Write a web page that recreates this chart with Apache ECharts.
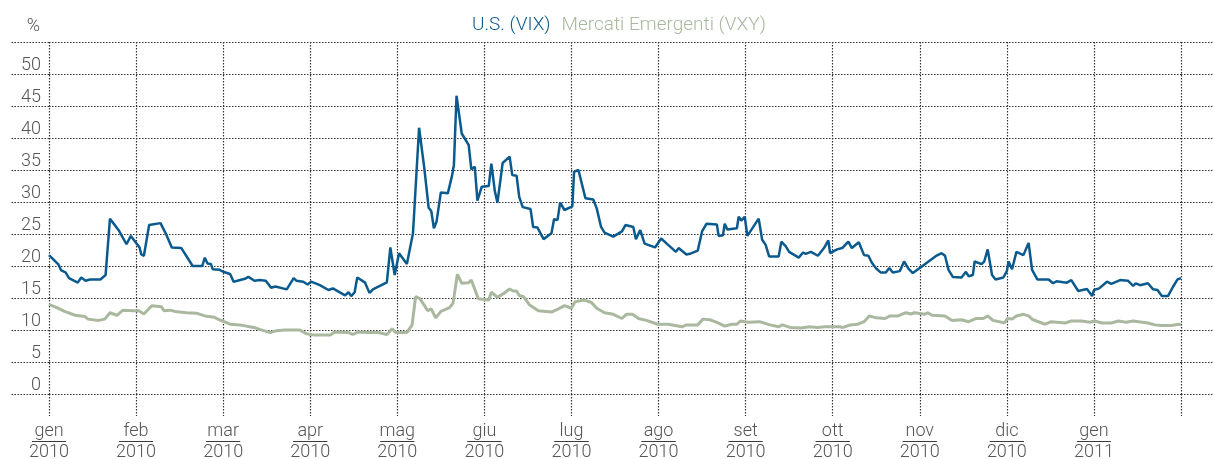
<!DOCTYPE html>
<html>
<head>
<meta charset="utf-8">
<script src="https://cdn.jsdelivr.net/npm/echarts@6/dist/echarts.min.js"></script>
<style>
  html, body { margin: 0; padding: 0; background: #fff; }
  #chart { width: 1213px; height: 459px; }
</style>
</head>
<body>
<div id="chart"></div>
<script>
// asse x: mesi da gen 2010 (0) a fine gen 2011 (13)
const monthLabels = ['gen', 'feb', 'mar', 'apr', 'mag', 'giu', 'lug', 'ago', 'set', 'ott', 'nov', 'dic', 'gen'];
const yearLabels = ['2010', '2010', '2010', '2010', '2010', '2010', '2010', '2010', '2010', '2010', '2010', '2010', '2011'];
const yTicks = [0, 5, 10, 15, 20, 25, 30, 35, 40, 45, 50];

// [mese, valore %]
const vix = [
  [0, 21.7], [0.11, 20.2], [0.14, 19.3], [0.19, 19.0], [0.23, 18.1], [0.33, 17.4], [0.37, 18.2], [0.42, 17.7],
  [0.47, 17.9], [0.59, 17.9], [0.61, 17.7], [0.65, 18.6], [0.70, 27.4], [0.80, 25.6], [0.89, 23.4], [0.94, 24.7],
  [1.04, 22.9], [1.06, 21.8], [1.09, 21.6], [1.15, 26.4], [1.28, 26.7], [1.34, 25.1], [1.41, 22.9], [1.52, 22.8],
  [1.65, 20.0], [1.76, 20.0], [1.79, 21.3], [1.82, 20.4], [1.86, 20.3], [1.88, 19.5], [1.96, 19.4], [2.00, 19.1],
  [2.08, 18.75], [2.12, 17.55], [2.25, 18.0], [2.29, 18.3], [2.36, 17.7], [2.42, 17.8], [2.49, 17.7], [2.55, 16.6],
  [2.60, 16.8], [2.73, 16.35], [2.81, 18.1], [2.84, 17.7], [2.92, 17.55], [2.97, 17.1], [3.01, 17.55], [3.11, 17.0],
  [3.21, 16.25], [3.26, 16.5], [3.40, 15.4], [3.44, 15.9], [3.47, 15.3], [3.51, 15.9], [3.54, 18.2], [3.63, 17.4],
  [3.68, 15.8], [3.72, 16.35], [3.80, 16.9], [3.88, 17.45], [3.92, 22.9], [3.97, 18.6], [4.02, 22.0], [4.11, 20.3],
  [4.18, 25.1], [4.20, 29.8], [4.25, 41.6], [4.31, 35.3], [4.36, 29.1], [4.39, 28.6], [4.42, 25.9], [4.45, 26.9],
  [4.50, 31.5], [4.58, 31.35], [4.63, 34.2], [4.65, 35.8], [4.68, 46.6], [4.74, 40.7], [4.82, 38.9], [4.85, 35.1],
  [4.89, 35.5], [4.92, 30.2], [4.97, 32.4], [5.05, 32.5], [5.08, 36.0], [5.12, 31.7], [5.15, 29.9], [5.21, 36.1],
  [5.29, 37.1], [5.32, 34.2], [5.37, 34.1], [5.40, 30.8], [5.44, 29.2], [5.53, 28.9], [5.56, 26.1], [5.61, 26.0],
  [5.68, 24.2], [5.77, 25.1], [5.80, 27.3], [5.84, 27.2], [5.87, 29.9], [5.92, 28.75], [6.01, 29.3], [6.03, 34.7],
  [6.08, 35.0], [6.16, 30.6], [6.25, 30.4], [6.29, 29.0], [6.34, 26.1], [6.38, 25.2], [6.48, 24.6], [6.58, 25.4],
  [6.62, 26.4], [6.71, 26.1], [6.74, 24.2], [6.79, 25.6], [6.84, 23.5], [6.96, 22.9], [7.03, 24.3], [7.11, 23.3],
  [7.20, 22.2], [7.23, 22.8], [7.32, 21.8], [7.36, 21.9], [7.45, 22.4], [7.50, 25.4], [7.55, 26.6], [7.67, 26.5],
  [7.69, 24.7], [7.74, 24.8], [7.76, 26.6], [7.79, 25.7], [7.90, 25.9], [7.92, 27.7], [7.95, 27.1], [7.99, 27.7],
  [8.02, 24.7], [8.15, 27.4], [8.19, 24.1], [8.23, 23.3], [8.27, 21.5], [8.38, 21.5], [8.41, 23.8], [8.46, 23.1],
  [8.50, 22.2], [8.61, 21.3], [8.66, 22.1], [8.69, 21.9], [8.75, 22.2], [8.83, 21.6], [8.90, 22.8], [8.95, 24.0],
  [8.97, 22.0], [9.05, 22.6], [9.11, 22.8], [9.18, 23.8], [9.22, 22.8], [9.30, 23.7], [9.36, 21.7], [9.41, 21.6],
  [9.45, 20.5], [9.50, 19.6], [9.55, 19.0], [9.61, 19.0], [9.65, 19.7], [9.69, 19.0], [9.77, 19.2], [9.82, 20.7],
  [9.87, 19.6], [9.92, 18.9], [10.02, 19.9], [10.12, 20.9], [10.19, 21.6], [10.25, 22.0], [10.29, 21.6], [10.33, 19.4],
  [10.38, 18.3], [10.48, 18.2], [10.53, 19.1], [10.56, 18.4], [10.61, 18.6], [10.63, 20.7], [10.71, 20.3], [10.74, 20.7],
  [10.78, 22.6], [10.83, 18.6], [10.87, 17.9], [10.96, 18.2], [11.00, 19.2], [11.02, 20.7], [11.06, 19.5], [11.11, 22.2],
  [11.19, 21.7], [11.25, 23.6], [11.29, 19.4], [11.35, 17.9], [11.48, 17.9], [11.53, 17.3], [11.57, 17.6], [11.69, 17.4],
  [11.74, 17.8], [11.82, 16.1], [11.92, 16.4], [11.94, 16.25], [11.98, 15.3], [12.00, 16.25], [12.06, 16.5], [12.15, 17.55],
  [12.20, 17.2], [12.30, 17.8], [12.39, 17.7], [12.45, 16.9], [12.48, 17.3], [12.53, 17.0], [12.62, 17.3], [12.68, 16.35],
  [12.73, 16.25], [12.78, 15.3], [12.85, 15.3], [12.91, 16.8], [12.96, 17.9], [13.00, 18.1]
];

const vxy = [
  [0, 14.0], [0.09, 13.5], [0.18, 12.9], [0.30, 12.3], [0.41, 12.1], [0.45, 11.7], [0.57, 11.5], [0.64, 11.7],
  [0.70, 12.7], [0.78, 12.3], [0.85, 13.1], [0.97, 13.0], [1.03, 13.0], [1.09, 12.5], [1.18, 13.8], [1.29, 13.65],
  [1.32, 13.0], [1.39, 13.1], [1.45, 12.9], [1.58, 12.7], [1.70, 12.6], [1.79, 12.2], [1.90, 12.0], [1.94, 11.7],
  [2.08, 10.9], [2.19, 10.8], [2.35, 10.4], [2.42, 10.1], [2.54, 9.6], [2.61, 9.9], [2.71, 10.0], [2.88, 10.0],
  [2.96, 9.4], [3.05, 9.2], [3.23, 9.2], [3.28, 9.7], [3.44, 9.6], [3.49, 9.3], [3.55, 9.7], [3.67, 9.6],
  [3.78, 9.6], [3.88, 9.3], [3.94, 10.2], [3.98, 9.6], [4.11, 9.6], [4.17, 10.8], [4.21, 15.2], [4.26, 14.9],
  [4.35, 13.0], [4.39, 13.3], [4.44, 11.9], [4.50, 12.9], [4.60, 13.5], [4.64, 14.2], [4.69, 18.7], [4.74, 17.3],
  [4.82, 17.4], [4.85, 17.8], [4.93, 14.9], [5.05, 14.7], [5.08, 15.9], [5.15, 15.1], [5.22, 15.7], [5.29, 16.4],
  [5.33, 16.1], [5.37, 16.1], [5.40, 15.4], [5.45, 15.2], [5.52, 13.9], [5.62, 13.0], [5.77, 12.8], [5.85, 13.3],
  [5.92, 13.8], [6.00, 13.4], [6.04, 14.4], [6.14, 14.7], [6.23, 14.3], [6.29, 13.4], [6.38, 12.7], [6.48, 12.45],
  [6.58, 11.8], [6.63, 12.45], [6.70, 12.45], [6.77, 11.8], [6.86, 11.5], [6.99, 10.9], [7.11, 10.9], [7.27, 10.5],
  [7.32, 10.8], [7.45, 10.8], [7.51, 11.7], [7.59, 11.6], [7.67, 11.2], [7.76, 10.6], [7.84, 10.9], [7.90, 10.9],
  [7.94, 11.4], [8.03, 11.2], [8.16, 11.3], [8.28, 10.8], [8.38, 10.5], [8.42, 10.8], [8.51, 10.4], [8.64, 10.3],
  [8.73, 10.5], [8.83, 10.4], [8.91, 10.5], [9.08, 10.5], [9.12, 10.4], [9.20, 10.8], [9.29, 10.9], [9.36, 11.3],
  [9.42, 12.2], [9.50, 11.9], [9.60, 11.8], [9.66, 12.2], [9.75, 12.2], [9.84, 12.7], [9.90, 12.5], [9.94, 12.7],
  [10.06, 12.45], [10.09, 12.7], [10.14, 12.3], [10.29, 12.2], [10.37, 11.5], [10.48, 11.6], [10.56, 11.3], [10.65, 11.8],
  [10.73, 11.8], [10.78, 12.2], [10.84, 11.5], [10.94, 11.2], [10.97, 11.1], [11.01, 11.8], [11.06, 11.7], [11.11, 12.2],
  [11.19, 12.45], [11.25, 12.2], [11.30, 11.6], [11.44, 10.9], [11.51, 11.3], [11.67, 11.1], [11.74, 11.4], [11.86, 11.4],
  [11.95, 11.2], [12.01, 11.4], [12.09, 11.1], [12.20, 11.1], [12.28, 11.4], [12.37, 11.2], [12.45, 11.4], [12.62, 11.1],
  [12.70, 10.8], [12.78, 10.7], [12.89, 10.7], [12.97, 10.9], [13.00, 10.8]
];

const blue = '#0b5a8e';
const green = '#a9b89e';
const grey = '#555';
const font = 'Roboto';

const dotted = { type: [1.5, 1.5], color: '#333', width: 1.2 };

const chart = echarts.init(document.getElementById('chart'));
chart.setOption({
  animation: false,
  textStyle: { fontFamily: font, fontWeight: 300 },
  legend: {
    left: 462,
    top: 11,
    icon: 'none',
    itemWidth: 0,
    itemHeight: 0,
    itemGap: 6,
    textStyle: { fontSize: 19, fontFamily: font, fontWeight: 300 },
    data: [
      { name: 'U.S. (VIX)', textStyle: { color: blue } },
      { name: 'Mercati Emergenti (VXY)', textStyle: { color: green } }
    ]
  },
  grid: { left: 49, right: 32, top: 42, bottom: 65, outerBoundsMode: 'none' },
  xAxis: {
    type: 'value',
    min: 0,
    max: 13,
    interval: 1,
    axisLine: { show: false },
    axisTick: { show: true, length: 22, lineStyle: dotted },
    splitLine: { show: true, lineStyle: dotted },
    axisLabel: {
      margin: 29,
      customValues: monthLabels.map((m, i) => i),
      formatter: v => '{m|' + monthLabels[v] + '}\n{hr|}\n{y|' + yearLabels[v] + '}',
      rich: {
        m: { fontSize: 18, lineHeight: 16, color: grey, fontFamily: font, fontWeight: 300 },
        hr: { width: 34, height: 0, borderWidth: 0.8, borderColor: '#333', lineHeight: 5 },
        y: { fontSize: 18, lineHeight: 16, color: grey, fontFamily: font, fontWeight: 300 }
      }
    }
  },
  yAxis: [
    {
      type: 'value',
      min: 0,
      max: 55,
      interval: 5,
      name: '%',
      nameLocation: 'end',
      nameGap: 7,
      nameTextStyle: { fontSize: 18, color: grey, align: 'right', padding: [0, 9, 0, 0], fontFamily: font, fontWeight: 300 },
      axisLine: { show: false },
      axisTick: { show: true, length: 39, lineStyle: dotted },
      splitLine: { show: true, lineStyle: dotted },
      axisLabel: {
        customValues: yTicks,
        margin: 8,
        fontSize: 18,
        color: grey,
        verticalAlign: 'bottom',
        padding: [0, 0, 0, 0]
      }
    },
    {
      type: 'value',
      position: 'right',
      min: 0,
      max: 55,
      interval: 5,
      axisLine: { show: false },
      axisTick: { show: true, length: 32, lineStyle: dotted },
      splitLine: { show: false },
      axisLabel: { show: false }
    }
  ],
  series: [
    {
      name: 'U.S. (VIX)',
      type: 'line',
      data: vix,
      symbol: 'none',
      z: 3,
      lineStyle: { color: blue, width: 2.5 },
      itemStyle: { color: blue }
    },
    {
      name: 'Mercati Emergenti (VXY)',
      type: 'line',
      data: vxy,
      symbol: 'none',
      z: 2,
      lineStyle: { color: green, width: 3 },
      itemStyle: { color: green }
    }
  ]
});
</script>
</body>
</html>
